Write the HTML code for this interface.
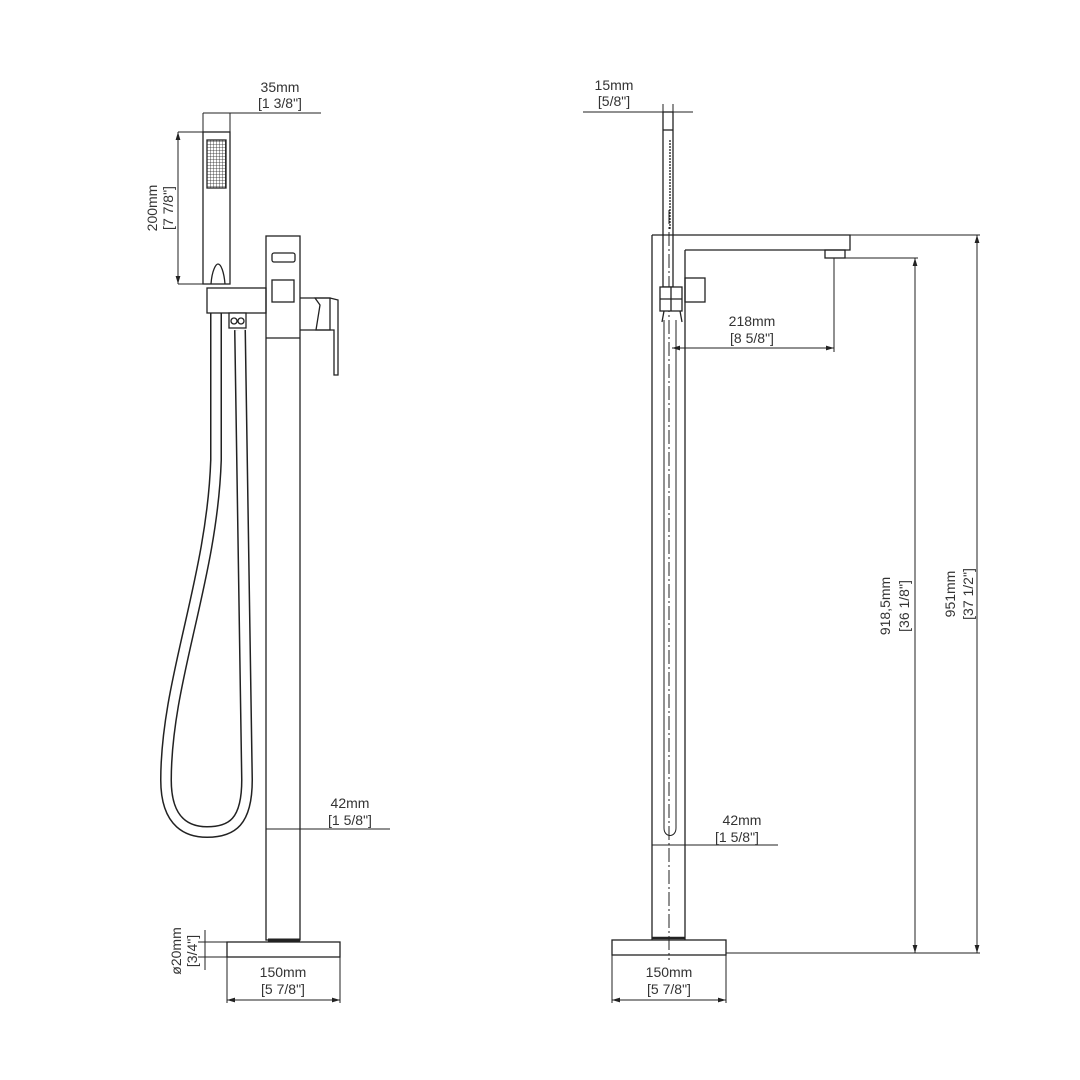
<!DOCTYPE html>
<html><head><meta charset="utf-8"><style>
html,body{margin:0;padding:0;background:#fff}
svg{display:block}
text{font-family:"Liberation Sans",sans-serif;font-size:14px;fill:#333;text-anchor:middle}
</style></head><body>
<svg width="1080" height="1080" viewBox="0 0 1080 1080" xmlns="http://www.w3.org/2000/svg">
<defs>
<marker id="a" viewBox="0 0 10 6" refX="10" refY="3" markerWidth="8" markerHeight="5" orient="auto-start-reverse"><path d="M0,0L10,3L0,6z" fill="#222"/></marker>
<pattern id="g" width="3" height="3" patternUnits="userSpaceOnUse"><rect width="3" height="3" fill="#fff"/><path d="M0,0H3M0,0V3" stroke="#222" stroke-width="0.8"/></pattern>
</defs>
<g fill="none" stroke="#222" stroke-width="1.3">
<!-- hose -->
<path d="M216,313 L216,460 C212,580 166,680 166,780 C166,825 190,832 207,832 C232,832 247,822 247,780 L240,330" stroke-width="12"/>
<path d="M216,313 L216,460 C212,580 166,680 166,780 C166,825 190,832 207,832 C232,832 247,822 247,780 L240,330" stroke="#fff" stroke-width="9"/>
<!-- handshower -->
<rect x="203" y="132" width="27" height="152" fill="#fff"/>
<rect x="207" y="140" width="19" height="48" fill="url(#g)"/>
<path d="M211,284 C212,270 216,264 218,264 C221,264 224,272 225,284"/>
<!-- holder -->
<rect x="207" y="288" width="59" height="25" fill="#fff"/>
<rect x="229" y="313" width="17" height="15" fill="#fff"/>
<circle cx="234" cy="321" r="3"/><circle cx="241" cy="321" r="3"/>
<!-- column -->
<rect x="266" y="236" width="34" height="704"/>
<rect x="272" y="253" width="23" height="9" rx="2"/>
<rect x="272" y="280" width="22" height="22"/>
<line x1="266" y1="338" x2="300" y2="338"/>
<!-- handle -->
<path d="M300,298 H330 V330 H300"/>
<path d="M315,298 L330,298 L338,300 L338,375 L334,375 L334,330 L316,330 L320,305 Z"/>
<!-- base -->
<line x1="268" y1="940" x2="300" y2="940" stroke-width="3"/>
<rect x="227" y="942" width="113" height="15"/>
<g stroke-width="1">
<line x1="203" y1="113" x2="203" y2="132"/><line x1="230" y1="113" x2="230" y2="132"/>
<line x1="203" y1="113" x2="321" y2="113"/>
<line x1="178" y1="132" x2="203" y2="132"/><line x1="178" y1="284" x2="210" y2="284"/>
<line x1="178" y1="132" x2="178" y2="284" marker-start="url(#a)" marker-end="url(#a)"/>
<line x1="266" y1="820" x2="266" y2="840"/><line x1="300" y1="820" x2="300" y2="840"/>
<line x1="266" y1="829" x2="390" y2="829"/>
<line x1="198" y1="942" x2="227" y2="942"/><line x1="198" y1="957" x2="227" y2="957"/>
<line x1="205" y1="930" x2="205" y2="970"/>
<line x1="227" y1="957" x2="227" y2="1003"/><line x1="340" y1="957" x2="340" y2="1003"/>
<line x1="227" y1="1000" x2="340" y2="1000" marker-start="url(#a)" marker-end="url(#a)"/>
</g>
<!-- RIGHT VIEW -->
<rect x="663" y="112" width="10" height="175"/>
<line x1="663" y1="130" x2="673" y2="130"/>
<line x1="670" y1="140" x2="670" y2="230" stroke-dasharray="2 1"/>
<path d="M652,235 H850 V250 H685"/>
<line x1="850" y1="235" x2="980" y2="235" stroke-width="1"/>
<rect x="825" y="250" width="20" height="8"/>
<line x1="845" y1="258" x2="918" y2="258" stroke-width="1"/>
<line x1="652" y1="235" x2="652" y2="940"/>
<line x1="685" y1="250" x2="685" y2="940"/>
<path d="M664,320 V828 C664,838 676,838 676,828 V320" stroke-width="1"/>
<line x1="669" y1="210" x2="669" y2="960" stroke-dasharray="14 3 2 3" stroke-width="1"/>
<rect x="660" y="287" width="22" height="24" fill="#fff"/>
<line x1="660" y1="299" x2="682" y2="299"/><line x1="671" y1="287" x2="671" y2="311"/>
<path d="M664,311 L662,322 M680,311 L682,322"/>
<rect x="685" y="278" width="20" height="24"/>
<line x1="652" y1="938" x2="685" y2="938" stroke-width="2.5"/>
<rect x="612" y="940" width="114" height="15"/>
<g stroke-width="1">
<line x1="663" y1="104" x2="663" y2="112"/><line x1="673" y1="104" x2="673" y2="112"/>
<line x1="583" y1="112" x2="693" y2="112"/>
<line x1="834" y1="258" x2="834" y2="352"/>
<line x1="672" y1="348" x2="834" y2="348" marker-start="url(#a)" marker-end="url(#a)"/>
<line x1="652" y1="845" x2="778" y2="845"/>
<line x1="726" y1="953" x2="980" y2="953"/>
<line x1="915" y1="258" x2="915" y2="953" marker-start="url(#a)" marker-end="url(#a)"/>
<line x1="977" y1="235" x2="977" y2="953" marker-start="url(#a)" marker-end="url(#a)"/>
<line x1="612" y1="955" x2="612" y2="1003"/><line x1="726" y1="955" x2="726" y2="1003"/>
<line x1="612" y1="1000" x2="726" y2="1000" marker-start="url(#a)" marker-end="url(#a)"/>
</g>
</g>
<text x="280" y="92">35mm</text><text x="280" y="108">[1 3/8"]</text>
<text transform="translate(157,208) rotate(-90)">200mm</text>
<text transform="translate(173,208) rotate(-90)">[7 7/8"]</text>
<text x="350" y="808">42mm</text><text x="350" y="825">[1 5/8"]</text>
<text transform="translate(181,951) rotate(-90)">ø20mm</text>
<text transform="translate(197,951) rotate(-90)">[3/4"]</text>
<text x="283" y="977">150mm</text><text x="283" y="994">[5 7/8"]</text>
<text x="614" y="90">15mm</text><text x="614" y="106">[5/8"]</text>
<text x="752" y="326">218mm</text><text x="752" y="343">[8 5/8"]</text>
<text x="742" y="825">42mm</text><text x="737" y="842">[1 5/8"]</text>
<text x="669" y="977">150mm</text><text x="669" y="994">[5 7/8"]</text>
<text transform="translate(890,606) rotate(-90)">918,5mm</text>
<text transform="translate(909,606) rotate(-90)">[36 1/8"]</text>
<text transform="translate(955,594) rotate(-90)">951mm</text>
<text transform="translate(973,594) rotate(-90)">[37 1/2"]</text>
</svg>
</body></html>
